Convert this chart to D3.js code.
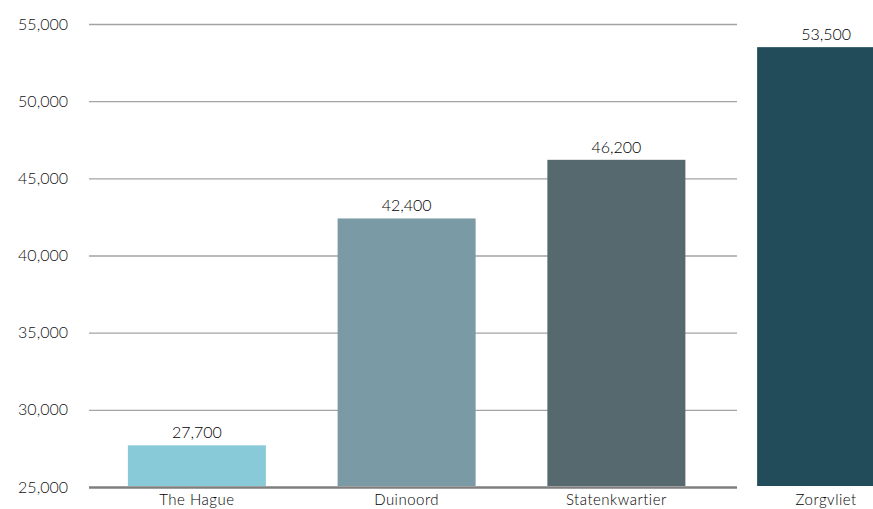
<!DOCTYPE html>
<html>
<head>
<meta charset="utf-8">
<script src="https://cdn.jsdelivr.net/npm/d3@7"></script>
<style>
    body { margin: 0; background: #fff; overflow: hidden; }
    #chart { width: 873px; height: 509px; }
    .tick text { font-family: Lato, sans-serif; font-weight: 300; }
</style>
</head>
<body>
<div id="chart"></div>
<script>
// neighbourhoods and the value printed above each bar
const neighbourhoods = ["The Hague", "Duinoord", "Statenkwartier", "Zorgvliet"];
const incomes = [27700, 42400, 46200, 53500];
const barColors = ["#89cad9", "#7a9aa5", "#56696f", "#234c5a"];
const yTicks = [25000, 30000, 35000, 40000, 45000, 50000, 55000];

class BarChart {
    constructor(parentElement) {
        this.parentElement = parentElement;
        this.data = neighbourhoods.map((n, i) => ({ name: n, value: incomes[i], color: barColors[i] }));
        this.initVis();
    }

    initVis() {
        let vis = this;

        let width = 873, height = 509;
        let gridLeft = 89, gridRight = 737;
        let top = 24, bottom = 487;

        let svg = d3.select(vis.parentElement).append("svg")
            .attr("width", width)
            .attr("height", height);

        let x = d3.scaleBand()
            .domain(neighbourhoods)
            .range([92, 931])
            .paddingInner(0.342)
            .paddingOuter(0.171);

        let y = d3.scaleLinear()
            .domain([25000, 55000])
            .range([bottom, top]);

        let fmt = d3.format(",");

        // gridlines + y labels
        let yAxis = svg.append("g")
            .attr("transform", "translate(" + gridLeft + ",0)")
            .call(d3.axisLeft(y)
                .tickValues(yTicks)
                .tickFormat(fmt)
                .tickSize(-(gridRight - gridLeft))
                .tickPadding(21));

        yAxis.select(".domain").remove();
        yAxis.selectAll(".tick line")
            .attr("stroke", "#a3a3a3")
            .attr("stroke-width", 1.3);
        yAxis.selectAll(".tick text")
            .style("font-size", "16px")
            .attr("fill", "#111");

        // baseline is heavier
        yAxis.selectAll(".tick")
            .filter(d => d === 25000)
            .select("line")
            .attr("stroke", "#7f7f7f")
            .attr("stroke-width", 2.5);

        svg.selectAll(".bar")
            .data(vis.data)
            .enter().append("rect")
            .attr("class", "bar")
            .attr("x", d => x(d.name))
            .attr("y", d => y(d.value))
            .attr("width", x.bandwidth())
            .attr("height", d => y(25000) - y(d.value) - 1)
            .attr("fill", d => d.color);

        svg.selectAll(".bar-label")
            .data(vis.data)
            .enter().append("text")
            .attr("class", "bar-label")
            .attr("x", d => x(d.name) + x.bandwidth() / 2)
            .attr("y", d => y(d.value) - 7)
            .attr("text-anchor", "middle")
            .style("font-family", "Lato, sans-serif")
            .style("font-weight", 300)
            .style("font-size", "16px")
            .style("fill", "#000")
            .text(d => fmt(d.value));

        let xAxis = svg.append("g")
            .attr("transform", "translate(0," + bottom + ")")
            .call(d3.axisBottom(x).tickSize(0).tickPadding(7));

        xAxis.select(".domain").remove();
        xAxis.selectAll(".tick text")
            .style("font-size", "15px")
            .style("letter-spacing", "0.5px")
            .attr("fill", "#000");
    }
}

new BarChart("#chart");
</script>
</body>
</html>
